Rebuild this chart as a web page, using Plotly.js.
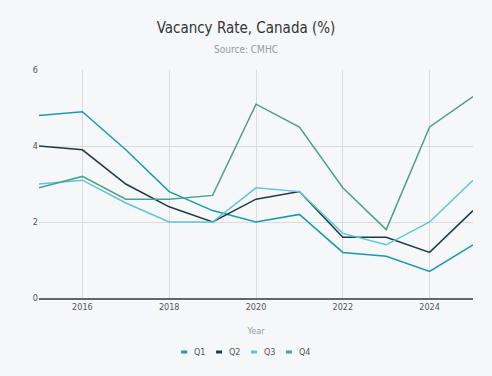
<!DOCTYPE html>
<html>
<head>
<meta charset="utf-8">
<script src="https://cdn.plot.ly/plotly-3.0.1.min.js"></script>
<style>html,body{margin:0;padding:0;background:#f5f7f9;}#chart{width:492px;height:376px;}</style>
</head>
<body>
<div id="chart"></div>
<script>
const years = [2015, 2016, 2017, 2018, 2019, 2020, 2021, 2022, 2023, 2024, 2025];
const q1 = [4.8, 4.9, 3.9, 2.8, 2.3, 2.0, 2.2, 1.2, 1.1, 0.7, 1.4];
const q2 = [4.0, 3.9, 3.0, 2.4, 2.0, 2.6, 2.8, 1.6, 1.6, 1.2, 2.3];
const q3 = [3.0, 3.1, 2.5, 2.0, 2.0, 2.9, 2.8, 1.7, 1.4, 2.0, 3.1];
const q4 = [2.9, 3.2, 2.6, 2.6, 2.7, 5.1, 4.5, 2.9, 1.8, 4.5, 5.3];
const seriesNames = ['Q1', 'Q2', 'Q3', 'Q4'];
const colors = ['#1a98b6', '#1d3b46', '#60c5d6', '#4c9f8c'];
const seriesData = [q1, q2, q3, q4];

const FONT = '"DejaVu Sans Condensed", "DejaVu Sans", Verdana, sans-serif';

const traces = seriesData.map((ys, i) => ({
  x: years, y: ys, name: seriesNames[i], type: 'scatter', mode: 'lines',
  line: {color: colors[i], width: 1.5}, showlegend: false, hoverinfo: 'x+y+name'
}));

// Compact legend (short dash + label) built from series names/colours
const plotL = 38.5, plotW = 435, plotB = 298, plotH = 228;
const legStart = 181, legStep = 35, legY = 352;
const legendShapes = [], legendAnnots = [];
seriesNames.forEach((n, i) => {
  const sx = legStart + legStep * i;
  const fy = (plotB - legY) / plotH;
  legendShapes.push({type: 'line', xref: 'paper', yref: 'paper',
    x0: (sx - plotL) / plotW, x1: (sx + 6 - plotL) / plotW, y0: fy, y1: fy,
    line: {color: colors[i], width: 3}});
  legendAnnots.push({xref: 'paper', yref: 'paper', x: (sx + 11 - plotL) / plotW, y: fy,
    xanchor: 'left', yanchor: 'middle', showarrow: false, text: n,
    font: {family: FONT, size: 9, color: '#555'}});
});

const layout = {
  width: 492, height: 376,
  paper_bgcolor: '#f5f7f9', plot_bgcolor: '#f5f7f9',
  font: {family: FONT, color: '#555', size: 9},
  title: {text: 'Vacancy Rate, Canada (%)<br><span style="font-size:10px;color:#9a9a9a">Source: CMHC</span>',
          font: {family: FONT, size: 15, color: '#333'}, x: 0.5, xanchor: 'center', y: 0.912, yanchor: 'top'},
  margin: {l: plotL, r: 492 - plotL - plotW, t: 70, b: 376 - plotB, autoexpand: false},
  xaxis: {
    range: [2015, 2025], tickvals: [2016, 2018, 2020, 2022, 2024],
    showgrid: true, gridcolor: '#dcdcdc', gridwidth: 1, zeroline: false,
    showline: true, linecolor: '#666', linewidth: 1.5,
    ticks: '', ticklen: 0, tickfont: {size: 9, color: '#555'},
    title: {text: 'Year', font: {size: 9, color: '#999'}, standoff: 16}
  },
  yaxis: {
    range: [0, 6], tickvals: [0, 2, 4, 6],
    showgrid: true, gridcolor: '#dcdcdc', gridwidth: 1, zeroline: false,
    showline: false, ticks: '', tickfont: {size: 9, color: '#555'}
  },
  shapes: legendShapes,
  annotations: legendAnnots,
  showlegend: false
};

Plotly.newPlot('chart', traces, layout, {displayModeBar: false, staticPlot: true});
</script>
</body>
</html>
